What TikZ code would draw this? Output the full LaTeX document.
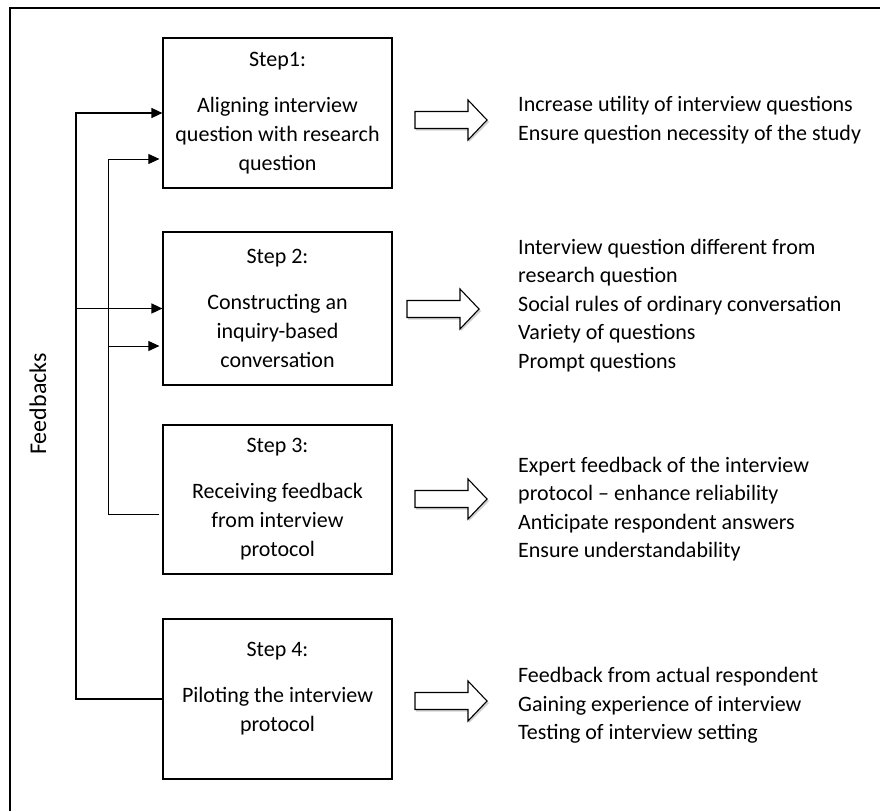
\documentclass[tikz,border=0pt]{standalone}
\usepackage{fontspec}
\setmainfont{Carlito}
\usetikzlibrary{arrows.meta}
\begin{document}
\begin{tikzpicture}[x=1pt,y=-1pt,
  stepbox/.style={draw,line width=1.2pt,minimum width=229pt,minimum height=150pt,inner sep=0pt},
  boxtext/.style={align=center,font=\fontsize{22}{29}\selectfont,inner sep=0pt},
  outtext/.style={anchor=west,align=left,font=\fontsize{22}{28.5}\selectfont,inner sep=0pt},
  blockarrow/.style={draw,line width=1.1pt,fill=white,line join=miter},
  arrowshadow/.style={fill=black!18,draw=none},
  thickfb/.style={line width=1.6pt},
  thinfb/.style={line width=0.8pt},
  tip/.style={-{Triangle[length=11pt,width=10pt]}},
  pics/fatarrow/.style={code={
    \fill[arrowshadow] (-35,-6.5) -- (18,-6.5) -- (18,-18) -- (38,2) -- (18,22) -- (18,10.5) -- (-35,10.5) -- cycle;
    \draw[blockarrow] (-36,-8.5) -- (17,-8.5) -- (17,-20) -- (36,0) -- (17,20) -- (17,8.5) -- (-36,8.5) -- cycle;
  }}
]
\useasboundingbox (0,0) rectangle (880,811);
\fill[white] (0,0) rectangle (880,811);
% frame
\coordinate (fbl) at (10,811);
\coordinate (ftl) at (10,8);
\coordinate (ftr) at (880,8);
\draw[line width=1.3pt] (fbl) -- (ftl) -- (ftr);

% step boxes
\node[stepbox,minimum height=150pt] (b1) at (277.5,113) {};
\node[stepbox,minimum height=153pt] (b2) at (277.5,308.5) {};
\node[stepbox,minimum height=149pt] (b3) at (277.5,499.5) {};
\node[stepbox,minimum height=160pt] (b4) at (277.5,699) {};

\node[boxtext] (t1) at (b1.center) {Step1:\\[17pt]Aligning interview\\question with research\\question};
\node[boxtext] (t2) at (b2.center) {Step 2:\\[17pt]Constructing an\\inquiry-based\\conversation};
\node[boxtext] (t3) at (b3.center) {Step 3:\\[17pt]Receiving feedback\\from interview\\protocol};
\node[boxtext] (t4) at ([yshift=10pt]b4.center) {Step 4:\\[17pt]Piloting the interview\\protocol};

% feedbacks label
\node[rotate=90,font=\fontsize{24}{28}\selectfont] (fb) at (38,404) {Feedbacks};

% feedback lines
\coordinate (T) at (76,0);
\coordinate (S) at (108,0);
\coordinate (s1) at ([yshift=-46pt]b1.west);
\coordinate (s2) at ([yshift=-37.5pt]b2.west);
\coordinate (s3) at ([yshift=-14.5pt]b3.west);
\draw[thickfb,tip] (b4.west) -- (b4.west -| T) -- (T |- b1.west) -- (b1.west);
\draw[thickfb,tip] (T |- b2.west) -- (b2.west);
\draw[thinfb,tip,shorten <=3pt,shorten >=3pt] (s3) -- (s3 -| S) -- (S |- s1) -- (s1);
\draw[thinfb,tip,shorten >=3pt] (S |- s2) -- (s2);

% block arrows
\coordinate (a1) at (451,120);
\coordinate (a2) at (443,309);
\coordinate (a3) at (451,499);
\coordinate (a4) at (451,701);
\pic at (a1) {fatarrow};
\pic at (a2) {fatarrow};
\pic at (a3) {fatarrow};
\pic at (a4) {fatarrow};

% outcome texts
\node[outtext] (o1) at (518,120) {Increase utility of interview questions\\Ensure question necessity of the study};
\node[outtext] (o2) at (518,305.5) {Interview question different from\\research question\\Social rules of ordinary conversation\\Variety of questions\\Prompt questions};
\node[outtext] (o3) at (518,509) {Expert feedback of the interview\\protocol -- enhance reliability\\Anticipate respondent answers\\Ensure understandability};
\node[outtext] (o4) at (518,705.5) {Feedback from actual respondent\\Gaining experience of interview\\Testing of interview setting};
\end{tikzpicture}
\end{document}
